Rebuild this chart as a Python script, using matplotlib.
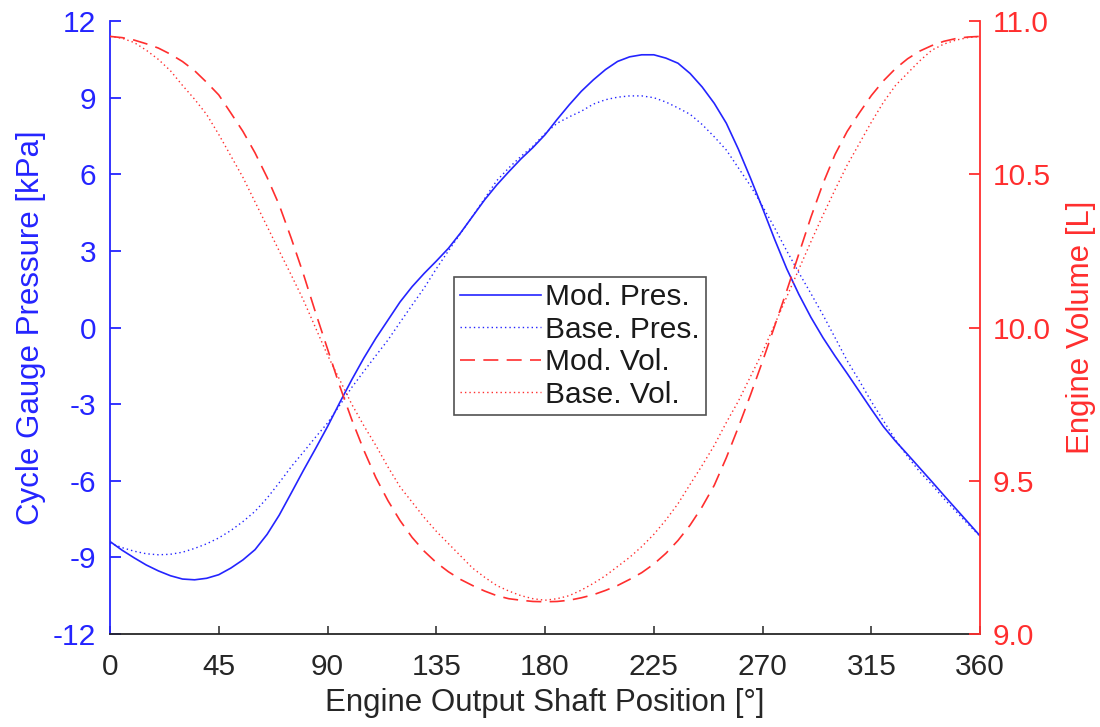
import matplotlib
matplotlib.use("Agg")
import matplotlib.pyplot as plt

# shaft angle [deg], sampled every 5 deg
angle = list(range(0, 361, 5))

# gauge pressure [kPa]
mod_pres = [-8.38, -8.72, -9.02, -9.3, -9.53, -9.72, -9.85, -9.88, -9.82, -9.68,
            -9.42, -9.1, -8.7, -8.1, -7.35, -6.48, -5.6, -4.75, -3.88, -2.95,
            -2.05, -1.2, -0.42, 0.29, 1.0, 1.6, 2.12, 2.6, 3.1, 3.7,
            4.35, 5.0, 5.58, 6.1, 6.6, 7.05, 7.55, 8.15, 8.72, 9.25,
            9.7, 10.1, 10.42, 10.6, 10.68, 10.68, 10.55, 10.35, 9.95, 9.42,
            8.78, 8.0, 6.98, 5.85, 4.67, 3.45, 2.3, 1.3, 0.4, -0.4,
            -1.12, -1.8, -2.5, -3.2, -3.88, -4.45, -4.97, -5.5, -6.03, -6.57,
            -7.1, -7.63, -8.16]
base_pres = [-8.44, -8.62, -8.76, -8.86, -8.9, -8.88, -8.8, -8.65, -8.47, -8.24,
             -7.95, -7.6, -7.2, -6.68, -6.08, -5.45, -4.88, -4.3, -3.74, -3.05,
             -2.35, -1.72, -1.1, -0.49, 0.2, 0.88, 1.55, 2.3, 3.0, 3.68,
             4.36, 5.05, 5.75, 6.25, 6.7, 7.1, 7.6, 8.0, 8.25, 8.47,
             8.75, 8.92, 9.02, 9.07, 9.07, 9.0, 8.83, 8.6, 8.35, 7.95,
             7.47, 6.95, 6.25, 5.55, 4.75, 3.9, 3.0, 2.15, 1.33, 0.49,
             -0.4, -1.3, -2.08, -2.9, -3.65, -4.4, -5.05, -5.65, -6.15, -6.7,
             -7.2, -7.7, -8.18]

# engine volume [L]
mod_vol = [10.95, 10.946, 10.938, 10.926, 10.912, 10.892, 10.868, 10.838, 10.80, 10.759,
           10.70, 10.64, 10.57, 10.49, 10.40, 10.291, 10.175, 10.05, 9.93, 9.81,
           9.70, 9.60, 9.51, 9.435, 9.37, 9.315, 9.27, 9.233, 9.203, 9.178,
           9.158, 9.14, 9.125, 9.115, 9.11, 9.106, 9.105, 9.106, 9.11, 9.118,
           9.128, 9.142, 9.158, 9.178, 9.20, 9.228, 9.263, 9.305, 9.355, 9.415,
           9.485, 9.575, 9.675, 9.78, 9.89, 10.005, 10.12, 10.24, 10.36, 10.47,
           10.565, 10.64, 10.70, 10.757, 10.805, 10.845, 10.877, 10.902, 10.92, 10.934,
           10.943, 10.948, 10.95]
base_vol = [10.95, 10.944, 10.93, 10.905, 10.875, 10.838, 10.79, 10.745, 10.695, 10.63,
            10.56, 10.49, 10.41, 10.33, 10.25, 10.171, 10.09, 10.0, 9.91, 9.83,
            9.75, 9.68, 9.615, 9.545, 9.48, 9.43, 9.38, 9.335, 9.295, 9.255,
            9.215, 9.185, 9.158, 9.14, 9.125, 9.115, 9.11, 9.115, 9.125, 9.143,
            9.165, 9.19, 9.22, 9.25, 9.285, 9.325, 9.372, 9.425, 9.488, 9.55,
            9.615, 9.69, 9.76, 9.84, 9.92, 10.01, 10.10, 10.19, 10.28, 10.367,
            10.45, 10.53, 10.60, 10.67, 10.735, 10.79, 10.83, 10.87, 10.905, 10.925,
            10.938, 10.946, 10.95]

x_ticks = [0, 45, 90, 135, 180, 225, 270, 315, 360]
pres_ticks = [-12, -9, -6, -3, 0, 3, 6, 9, 12]
vol_ticks = [9.0, 9.5, 10.0, 10.5, 11.0]


def main():
	plt.rcParams['font.family'] = ['Liberation Sans', 'DejaVu Sans']
	fs = 21.5
	fs_lab = 22.5
	blue = '#2424ff'
	red = '#ff2e2e'
	gray = '#262626'

	fig = plt.figure(figsize=(11, 7.27), dpi=100)
	ax = fig.add_axes([0.1, 0.128, 0.791, 0.843])
	ax2 = ax.twinx()

	l1, = ax.plot(angle, mod_pres, color=blue, lw=1.2, ls='-', label='Mod. Pres.')
	l2, = ax.plot(angle, base_pres, color=blue, lw=1.0, ls=(0, (1, 2.2)), label='Base. Pres.')
	l3, = ax2.plot(angle, mod_vol, color=red, lw=1.2, ls=(0, (9, 5)), label='Mod. Vol.')
	l4, = ax2.plot(angle, base_vol, color=red, lw=1.0, ls=(0, (1, 2.2)), label='Base. Vol.')

	ax.set_xlim(0, 360)
	ax.set_ylim(-12, 12)
	ax2.set_ylim(9.0, 11.0)

	ax.set_xticks(x_ticks)
	ax.set_xticklabels([str(t) for t in x_ticks])
	ax.set_yticks(pres_ticks)
	ax.set_yticklabels([str(t) for t in pres_ticks])
	ax2.set_yticks(vol_ticks)
	ax2.set_yticklabels(['%.1f' % t for t in vol_ticks])

	# inward ticks, no top box line
	for a in (ax, ax2):
		a.spines['top'].set_visible(False)
	ax.spines['right'].set_visible(False)
	ax.spines['left'].set_color(blue)
	ax.spines['bottom'].set_color(gray)
	ax2.spines['left'].set_visible(False)
	ax2.spines['bottom'].set_visible(False)
	ax2.spines['right'].set_color(red)
	for a in (ax, ax2):
		for s in a.spines.values():
			s.set_linewidth(1.3)

	ax.tick_params(axis='x', direction='in', length=6, width=1.1, colors=gray,
	               labelsize=fs, pad=14)
	ax.tick_params(axis='y', direction='in', length=8, width=1.3, colors=blue,
	               labelsize=fs, pad=10)
	ax2.tick_params(axis='y', direction='in', length=8, width=1.3, colors=red,
	                labelsize=fs, pad=9)

	ax.set_xlabel('Engine Output Shaft Position [°]', fontsize=fs_lab, color=gray, labelpad=5)
	ax.set_ylabel('Cycle Gauge Pressure [kPa]', fontsize=fs_lab, color=blue, labelpad=5)
	ax2.set_ylabel('Engine Volume [L]', fontsize=fs_lab, color=red, labelpad=11)

	leg = ax2.legend(handles=[l1, l2, l3, l4], loc='center', bbox_to_anchor=(0.54, 0.47),
	                 fontsize=fs, frameon=True, fancybox=False, handlelength=2.7,
	                 handletextpad=0.15, labelspacing=0.15, borderpad=0.2,
	                 borderaxespad=0)
	leg.get_frame().set_edgecolor(gray)
	leg.get_frame().set_linewidth(1.2)
	for t in leg.get_texts():
		t.set_color('#1a1a1a')

	fig.savefig('out.png', dpi=100)


if __name__ == "__main__":
	main()
